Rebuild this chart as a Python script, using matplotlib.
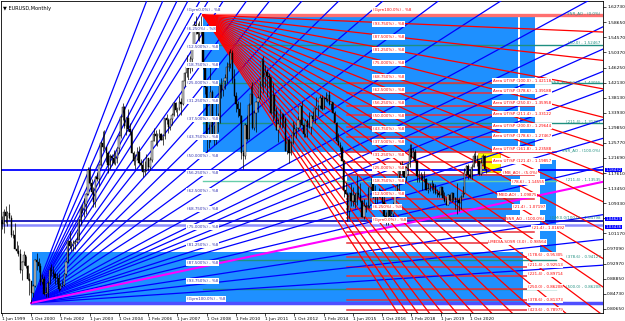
import matplotlib
matplotlib.use("Agg")
import matplotlib.pyplot as plt
from matplotlib.patches import Rectangle

# EURUSD monthly bars, month 0 = Jun 1999 ... month 265 = Jul 2021
first_open = 1.042
highs = [1.058, 1.079, 1.086, 1.072, 1.093, 1.062, 1.020,
         1.041, 0.991, 0.980, 0.970, 0.936, 0.965, 0.951, 0.925, 0.904, 0.878, 0.875, 0.943,
         0.960, 0.944, 0.932, 0.902, 0.895, 0.866, 0.882, 0.920, 0.930, 0.924, 0.906, 0.905,
         0.904, 0.877, 0.885, 0.905, 0.937, 0.995, 1.019, 0.991, 0.995, 0.993, 1.015, 1.050,
         1.087, 1.093, 1.108, 1.121, 1.193, 1.193, 1.159, 1.138, 1.167, 1.180, 1.200, 1.264,
         1.290, 1.293, 1.248, 1.236, 1.229, 1.229, 1.239, 1.233, 1.244, 1.281, 1.330, 1.367,
         1.357, 1.327, 1.349, 1.311, 1.297, 1.236, 1.228, 1.248, 1.250, 1.214, 1.214, 1.209,
         1.229, 1.216, 1.219, 1.264, 1.298, 1.292, 1.285, 1.295, 1.286, 1.277, 1.326, 1.337,
         1.325, 1.324, 1.339, 1.368, 1.368, 1.354, 1.385, 1.380, 1.427, 1.450, 1.497, 1.476,
         1.493, 1.520, 1.590, 1.602, 1.583, 1.588, 1.604, 1.562, 1.478, 1.413, 1.308, 1.472,
         1.403, 1.306, 1.374, 1.340, 1.417, 1.434, 1.427, 1.446, 1.478, 1.508, 1.514, 1.510,
         1.458, 1.397, 1.373, 1.369, 1.335, 1.238, 1.313, 1.333, 1.367, 1.412, 1.424, 1.345,
         1.373, 1.386, 1.425, 1.489, 1.494, 1.470, 1.458, 1.449, 1.438, 1.420, 1.384, 1.356,
         1.323, 1.349, 1.339, 1.339, 1.328, 1.269, 1.270, 1.264, 1.317, 1.309, 1.301, 1.331,
         1.360, 1.371, 1.310, 1.324, 1.323, 1.342, 1.333, 1.345, 1.354, 1.383, 1.362, 1.389,
         1.389, 1.383, 1.395, 1.388, 1.399, 1.368, 1.370, 1.344, 1.316, 1.284, 1.260, 1.250,
         1.212, 1.153, 1.124, 1.122, 1.147, 1.139, 1.121, 1.171, 1.140, 1.149, 1.102, 1.106,
         1.098, 1.138, 1.139, 1.162, 1.162, 1.143, 1.119, 1.136, 1.133, 1.126, 1.113, 1.069,
         1.082, 1.083, 1.091, 1.097, 1.126, 1.145, 1.185, 1.207, 1.209, 1.188, 1.196, 1.203,
         1.254, 1.256, 1.245, 1.240, 1.210, 1.185, 1.179, 1.174, 1.182, 1.162, 1.150, 1.148,
         1.157, 1.149, 1.145, 1.133, 1.127, 1.141, 1.129, 1.125, 1.109, 1.118, 1.118, 1.124,
         1.123, 1.110, 1.149, 1.107, 1.115, 1.142, 1.191, 1.197, 1.201, 1.188, 1.200, 1.231,
         1.235, 1.224, 1.210, 1.215, 1.227, 1.225, 1.190]
lows = [1.025, 1.013, 1.040, 1.032, 1.051, 1.001, 1.000,
        0.970, 0.958, 0.950, 0.904, 0.884, 0.925, 0.919, 0.886, 0.844, 0.823, 0.838, 0.866,
        0.912, 0.907, 0.873, 0.874, 0.845, 0.840, 0.838, 0.875, 0.895, 0.887, 0.875, 0.874,
        0.856, 0.859, 0.865, 0.868, 0.896, 0.932, 0.971, 0.963, 0.965, 0.969, 0.985, 0.993,
        1.036, 1.067, 1.057, 1.066, 1.115, 1.142, 1.120, 1.083, 1.085, 1.154, 1.140, 1.196,
        1.237, 1.240, 1.205, 1.176, 1.186, 1.199, 1.201, 1.198, 1.203, 1.231, 1.272, 1.320,
        1.298, 1.280, 1.290, 1.279, 1.230, 1.197, 1.187, 1.211, 1.200, 1.188, 1.164, 1.171,
        1.181, 1.183, 1.185, 1.205, 1.262, 1.252, 1.249, 1.271, 1.265, 1.251, 1.268, 1.309,
        1.286, 1.292, 1.306, 1.330, 1.341, 1.331, 1.346, 1.335, 1.360, 1.412, 1.438, 1.429,
        1.448, 1.453, 1.516, 1.555, 1.537, 1.534, 1.555, 1.458, 1.390, 1.233, 1.245, 1.260,
        1.275, 1.251, 1.255, 1.288, 1.313, 1.379, 1.385, 1.404, 1.421, 1.453, 1.462, 1.421,
        1.386, 1.343, 1.328, 1.313, 1.214, 1.188, 1.214, 1.264, 1.268, 1.365, 1.296, 1.294,
        1.287, 1.342, 1.378, 1.410, 1.394, 1.409, 1.384, 1.409, 1.336, 1.317, 1.325, 1.292,
        1.260, 1.302, 1.299, 1.300, 1.236, 1.229, 1.204, 1.224, 1.256, 1.280, 1.270, 1.292,
        1.300, 1.306, 1.274, 1.274, 1.274, 1.299, 1.283, 1.318, 1.312, 1.350, 1.332, 1.354,
        1.348, 1.349, 1.373, 1.370, 1.361, 1.350, 1.339, 1.314, 1.260, 1.251, 1.236, 1.209,
        1.110, 1.119, 1.046, 1.054, 1.087, 1.087, 1.080, 1.089, 1.110, 1.096, 1.056, 1.052,
        1.071, 1.081, 1.082, 1.130, 1.109, 1.091, 1.095, 1.110, 1.112, 1.085, 1.057, 1.035,
        1.034, 1.049, 1.050, 1.057, 1.084, 1.112, 1.131, 1.171, 1.172, 1.158, 1.155, 1.172,
        1.192, 1.215, 1.214, 1.206, 1.151, 1.151, 1.157, 1.130, 1.153, 1.130, 1.122, 1.127,
        1.129, 1.123, 1.118, 1.110, 1.111, 1.116, 1.107, 1.096, 1.088, 1.088, 1.099, 1.098,
        1.099, 1.078, 1.064, 1.073, 1.077, 1.110, 1.118, 1.169, 1.161, 1.162, 1.160, 1.192,
        1.203, 1.195, 1.170, 1.170, 1.199, 1.184, 1.175]
closes = [1.037, 1.070, 1.059, 1.068, 1.055, 1.007, 1.007,
          0.970, 0.965, 0.957, 0.913, 0.934, 0.952, 0.922, 0.888, 0.883, 0.850, 0.870, 0.939,
          0.935, 0.922, 0.880, 0.888, 0.847, 0.849, 0.877, 0.913, 0.911, 0.902, 0.891, 0.890,
          0.860, 0.870, 0.872, 0.902, 0.934, 0.990, 0.978, 0.981, 0.987, 0.988, 0.994, 1.049,
          1.078, 1.077, 1.091, 1.118, 1.183, 1.150, 1.124, 1.098, 1.165, 1.159, 1.199, 1.259,
          1.247, 1.248, 1.231, 1.197, 1.222, 1.217, 1.202, 1.218, 1.243, 1.276, 1.327, 1.356,
          1.303, 1.326, 1.296, 1.288, 1.231, 1.210, 1.213, 1.234, 1.203, 1.199, 1.178, 1.184,
          1.216, 1.193, 1.212, 1.263, 1.283, 1.278, 1.277, 1.281, 1.267, 1.276, 1.325, 1.319,
          1.301, 1.323, 1.335, 1.366, 1.346, 1.353, 1.369, 1.364, 1.426, 1.449, 1.463, 1.459,
          1.486, 1.518, 1.579, 1.561, 1.555, 1.575, 1.561, 1.467, 1.409, 1.273, 1.270, 1.397,
          1.279, 1.266, 1.324, 1.323, 1.415, 1.403, 1.425, 1.433, 1.464, 1.472, 1.501, 1.432,
          1.386, 1.363, 1.351, 1.330, 1.230, 1.223, 1.306, 1.268, 1.362, 1.392, 1.299, 1.338,
          1.369, 1.381, 1.416, 1.480, 1.438, 1.450, 1.439, 1.436, 1.339, 1.387, 1.345, 1.294,
          1.308, 1.335, 1.334, 1.324, 1.237, 1.266, 1.231, 1.258, 1.286, 1.296, 1.299, 1.319,
          1.358, 1.306, 1.282, 1.317, 1.300, 1.301, 1.330, 1.322, 1.353, 1.358, 1.359, 1.379,
          1.349, 1.381, 1.377, 1.387, 1.364, 1.369, 1.339, 1.313, 1.263, 1.252, 1.245, 1.210,
          1.129, 1.119, 1.073, 1.122, 1.099, 1.115, 1.098, 1.121, 1.117, 1.100, 1.057, 1.086,
          1.083, 1.087, 1.138, 1.145, 1.113, 1.110, 1.117, 1.116, 1.124, 1.098, 1.059, 1.052,
          1.080, 1.058, 1.065, 1.090, 1.124, 1.142, 1.184, 1.191, 1.181, 1.164, 1.190, 1.200,
          1.241, 1.219, 1.232, 1.208, 1.169, 1.168, 1.169, 1.160, 1.160, 1.131, 1.132, 1.147,
          1.145, 1.137, 1.122, 1.122, 1.117, 1.137, 1.108, 1.099, 1.090, 1.115, 1.102, 1.121,
          1.109, 1.103, 1.103, 1.095, 1.110, 1.123, 1.178, 1.194, 1.172, 1.165, 1.193, 1.221,
          1.213, 1.208, 1.173, 1.202, 1.223, 1.186, 1.187]

date_tick_months = [0, 16, 32, 48, 64, 80, 96, 112, 128, 144, 160, 176, 192, 208, 224, 240, 256]
date_tick_labels = ["1 Jun 1999", "1 Oct 2000", "1 Feb 2002", "1 Jun 2003", "1 Oct 2004",
                    "1 Feb 2006", "1 Jun 2007", "1 Oct 2008", "1 Feb 2010", "1 Jun 2011",
                    "1 Oct 2012", "1 Feb 2014", "1 Jun 2015", "1 Oct 2016", "1 Feb 2018",
                    "1 Jun 2019", "1 Oct 2020"]
price_ticks = [1.62730, 1.58650, 1.54570, 1.50370, 1.46250, 1.42130, 1.38130, 1.33930,
               1.29850, 1.25770, 1.21690, 1.17610, 1.13450, 1.09330, 1.05250, 1.01170,
               0.97090, 0.92970, 0.88850, 0.84730, 0.80650]
hidden_price_ticks = [1.05250]  # covered by the price boxes in the reference

# blue Gann fan from the 2000 low: price each ray reaches at month 114
blue_anchor = (16, 0.8228)
blue_ref_month = 114
blue_fan = [2.097, 1.941, 1.832, 1.762, 1.695, 1.654, 1.589, 1.506, 1.440, 1.366, 1.301,
            1.241, 1.184, 1.136, 1.087, 1.058, 1.039, 1.020, 1.004, 0.979, 0.963, 0.939,
            0.898, 0.877, 0.855]
magenta_ray = 0.926

# red fan from the 2008 high: price each ray reaches at month 212
red_anchor = (110, 1.6056)
red_ref_month = 212
red_fan = [1.584, 1.548, 1.512, 1.476, 1.440, 1.404, 1.369, 1.333, 1.297, 1.261, 1.225,
           1.189, 1.153, 1.117, 1.082, 1.046, 1.010, 0.974, 0.938, 0.902, 0.866, 0.830]

# shaded zones: (month0, month1, price_low, price_high)
blue_zones = [(110, 282.3, 1.2332, 1.6056), (283.4, 291.6, 1.2332, 1.6056),
              (188.7, 283.4, 1.0484, 1.1734), (294.3, 303.1, 0.9451, 1.2115),
              (16.4, 285, 0.8228, 0.9614)]
yellow_zone = (260.4, 272.4, 1.1788, 1.2305)

# horizontal levels (price, colour, width, axis-label alignment)
full_lines = [(1.18432, '#0000ff', 1.3, 'center'), (1.04629, '#0000b0', 1.2, 'bottom'),
              (1.03436, '#8c8cff', 1.8, 'top')]
teal_lines = [(1.5240, 110, 329), (1.4207, 110, 329), (1.3120, 110, 329),
              (1.1544, 110, 303), (0.9397, 110, 303), (0.8608, 110, 303)]
red_levels = [1.4207, 1.3935, 1.3582, 1.3338, 1.3011, 1.2740, 1.2332, 1.2060, 1.1707,
              1.1054, 1.0783, 1.0538, 1.0158, 0.9859, 0.9478, 0.9206, 0.8962, 0.8608,
              0.8309, 0.8037]

blue_labels = ["(Gyrn0.0%) - %8", "(6.250%) - %8", "(12.500%) - %8", "(18.750%) - %8",
               "(25.000%) - %8", "(31.250%) - %8", "(37.500%) - %8", "(43.750%) - %8",
               "(50.000%) - %8", "(56.250%) - %8", "(62.500%) - %8", "(68.750%) - %8",
               "(75.000%) - %8", "(81.250%) - %8", "(87.500%) - %8", "(93.750%) - %8",
               "(Gyrn100.0%) - %8"]
blue_label_prices = [1.6191, 1.5675, 1.5186, 1.4697, 1.4207, 1.3718, 1.3229, 1.2740, 1.2223,
                     1.1761, 1.1272, 1.0783, 1.0294, 0.9804, 0.9315, 0.8826, 0.8337]
red_labels = blue_labels[::-1]
red_label_prices = [1.6191, 1.5811, 1.5458, 1.5104, 1.4751, 1.4370, 1.4017, 1.3664, 1.3310,
                    1.2957, 1.2604, 1.2250, 1.1897, 1.1544, 1.1190, 1.0837, 1.0484]

area_labels = [("Area UT/SP (100.0) - 1.42118", 268.6, 1.4262),
               ("Area UT/SP (378.6) - 1.39188", 268.6, 1.3990),
               ("Area UT/SP (250.0) - 1.35958", 268.6, 1.3664),
               ("Area UT/SP (211.4) - 1.33122", 268.6, 1.3365),
               ("Area UT/SP (200.0) - 1.29644", 268.6, 1.3039),
               ("Area UT/SP (178.6) - 1.27467", 268.6, 1.2767),
               ("Area UT/SP (161.8) - 1.23588", 268.6, 1.2413),
               ("Area UT/SP (121.4) - 1.19857", 268.6, 1.2087),
               ("(MB_AO) - (5.0%)", 274, 1.1788),
               ("(78.6) - 1.14555", 279, 1.1517),
               ("(MED-AO) - 1.09875", 271, 1.1163),
               ("(21.4) - 1.07197", 279.5, 1.0837),
               ("SNR_AO - (100.0%)", 276, 1.0538),
               ("(21.4) - 1.01692", 290, 1.0266),
               ("LMEDIA-SOSR (3.0) - 0.98564", 266, 0.9886),
               ("(178.6) - 0.95305", 287.7, 0.9532),
               ("(211.4) - 0.92513", 287.7, 0.9261),
               ("(221.4) - 0.89714", 287.7, 0.9016),
               ("(250.0) - 0.86208", 287.7, 0.8663),
               ("(378.6) - 0.81373", 287.7, 0.8309),
               ("(423.6) - 0.78979", 287.7, 0.8037)]
teal_labels = [("SNR_AO - (0.0%)", 1.6110), ("(50.0) - 1.52467", 1.5295),
               ("SNR_AO (50.0) - 1.42055", 1.4235), ("(211.4) - 1.31327", 1.3147),
               ("SNR_AO - (100.0%)", 1.2386), ("(211.4) - 1.13535", 1.1571),
               ("(GM(0.0/100.0) - 1.04798", 1.0538), ("(378.6) - 0.94127", 0.9478),
               ("(500.0) - 0.86208", 0.8663)]

fig = plt.figure(figsize=(6.25, 3.21), dpi=100)
ax = fig.add_axes([1 / 625, 8 / 321, 602 / 625, 312 / 321])
x_end = 328.8
ax.set_xlim(-0.55, x_end)
ax.set_ylim(0.7956, 1.6436)

for m0, m1, p0, p1 in blue_zones:
    ax.add_patch(Rectangle((m0, p0), m1 - m0, p1 - p0, fc='#1e90ff', ec='none', zorder=1))
m0, m1, p0, p1 = yellow_zone
ax.add_patch(Rectangle((m0, p0), m1 - m0, p1 - p0, fc='#ffff00', ec='#e0c000', lw=0.6, zorder=1.2))

for p, c, lw, va in full_lines:
    ax.axhline(p, color=c, lw=lw, zorder=2)
ax.plot([16.4, x_end], [0.8228, 0.8228], color='#4f4fff', lw=2.5, zorder=2)
for p, a, b in teal_lines:
    col = '#66cdaa' if 1.1 < p < 1.2 else '#1f8f80'
    ax.plot([a, b], [p, p], color=col, lw=1.0, zorder=2)
for p in red_levels:
    b = 303 if abs(p - 1.2332) < 1e-4 else 291
    ax.plot([189, b], [p, p], color='#e8303a', lw=1.1, zorder=2)
ax.plot([110, x_end], [1.6056, 1.6056], color='#ff7070', lw=2.4, zorder=2)

# fans
am, ap = blue_anchor
for tgt in blue_fan:
    pe = ap + (tgt - ap) * (x_end - am) / (blue_ref_month - am)
    ax.plot([am, x_end], [ap, pe], color='#0000ff', lw=0.9, zorder=3)
pe = ap + (magenta_ray - ap) * (x_end - am) / (blue_ref_month - am)
ax.plot([am, x_end], [ap, pe], color='#ff00ff', lw=1.5, zorder=3)
rm, rp = red_anchor
for tgt in red_fan:
    pe = rp + (tgt - rp) * (x_end - rm) / (red_ref_month - rm)
    ax.plot([rm, x_end], [rp, pe], color='#ff0000', lw=0.9, zorder=3)

# candles
opens = [first_open] + closes[:-1]
months = list(range(len(closes)))
ax.vlines(months, lows, highs, color='black', lw=0.5, zorder=4)
for m, o, c in zip(months, opens, closes):
    up = c >= o
    ax.add_patch(Rectangle((m - 0.35, min(o, c)), 0.7, max(abs(c - o), 0.001),
                           fc='#c8c8c8' if up else 'black', ec='black', lw=0.3, zorder=4.5))

fs = 2.9
wbox = dict(boxstyle='square,pad=0.15', fc='white', ec='none')
for t, p in zip(blue_labels, blue_label_prices):
    ax.text(101.2, p, t, fontsize=fs, color='#3030b0', va='center', bbox=wbox, zorder=6)
for t, p in zip(red_labels, red_label_prices):
    ax.text(203, p, t, fontsize=fs, color='#ff0000', va='center', bbox=wbox, zorder=6)
for t, m, p in area_labels:
    ax.text(m, p, t, fontsize=fs, color='#ff0000', va='center', bbox=wbox, zorder=6)
for t, p in teal_labels:
    ax.text(327.5, p, t, fontsize=fs, color='#1f8f80', va='center', ha='right', zorder=6)

ax.text(0.004, 0.985, "\u25bc EURUSD,Monthly", transform=ax.transAxes, fontsize=3.6,
        va='top', ha='left', color='black')

ax.yaxis.tick_right()
ax.set_yticks(price_ticks)
ax.set_yticklabels(["" if v in hidden_price_ticks else "%.5f" % v for v in price_ticks],
                   fontsize=3.2)
ax.set_xticks(date_tick_months)
ax.set_xticklabels(date_tick_labels, fontsize=3.2, ha='left')
ax.tick_params(axis='both', length=2, width=0.5, pad=1)
for s in ax.spines.values():
    s.set_linewidth(0.6)

ytf = ax.get_yaxis_transform()
for p, c, lw, va in full_lines:
    ax.text(1.004, p, "%.5f" % p, transform=ytf, fontsize=2.8, color='white', va=va,
            bbox=dict(boxstyle='square,pad=0.03', fc='#0000ff', ec='none'), zorder=7, clip_on=False)

fig.savefig("out.png", dpi=100)
